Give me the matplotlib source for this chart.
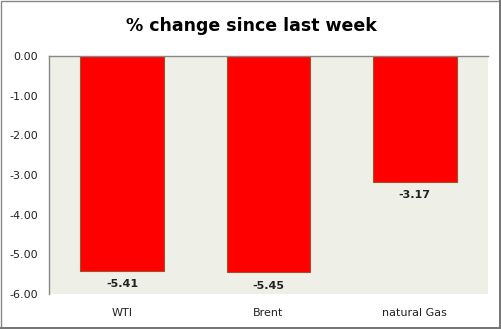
import matplotlib

matplotlib.use("Agg")

import matplotlib.pyplot as plt
from matplotlib.patches import Rectangle

categories = ["WTI", "Brent", "natural Gas"]
changes = [-5.41, -5.45, -3.17]
yticks = [0.0, -1.0, -2.0, -3.0, -4.0, -5.0, -6.0]

fig = plt.figure(figsize=(5.02, 3.29), dpi=100)
fig.patch.set_facecolor("white")
ax = fig.add_axes([0.0976, 0.1064, 0.8745, 0.7234])
ax.set_facecolor("#EEF0E8")

x = range(len(categories))
ax.bar(x, changes, width=0.57, color="#FF0000", edgecolor="#A0522D", linewidth=0.8)

for xi, v in zip(x, changes):
    ax.text(xi, v - 0.22, f"{v:.2f}", ha="center", va="top",
            fontsize=8, fontweight="bold", color="#222222")

ax.set_xlim(-0.5, len(categories) - 0.5)
ax.set_ylim(-6.0, 0.0)
ax.set_yticks(yticks)
ax.set_yticklabels([f"{t:.2f}" for t in yticks])
ax.set_xticks(list(x))
ax.set_xticklabels(categories)
ax.tick_params(axis="both", length=0, labelsize=8, colors="#222222")
ax.tick_params(axis="y", pad=8)
ax.tick_params(axis="x", pad=10)

for side in ("right", "bottom"):
    ax.spines[side].set_visible(False)
for side in ("top", "left"):
    ax.spines[side].set_color("#888888")
    ax.spines[side].set_linewidth(1.0)

fig.text(0.5, 0.922, "% change since last week", ha="center", va="center",
         fontsize=12.5, fontweight="bold", color="black")

# outer chart frame with a slightly heavier lower/right edge
fig.patches.append(Rectangle((0.002, 0.004), 0.994, 0.992, transform=fig.transFigure,
                             fill=False, edgecolor="#888888", linewidth=1.0))
fig.patches.append(Rectangle((0.0, 0.0), 1.0, 0.006, transform=fig.transFigure,
                             facecolor="#777777", edgecolor="none"))
fig.patches.append(Rectangle((0.994, 0.0), 0.006, 1.0, transform=fig.transFigure,
                             facecolor="#777777", edgecolor="none"))

fig.savefig("out.png", dpi=100)
